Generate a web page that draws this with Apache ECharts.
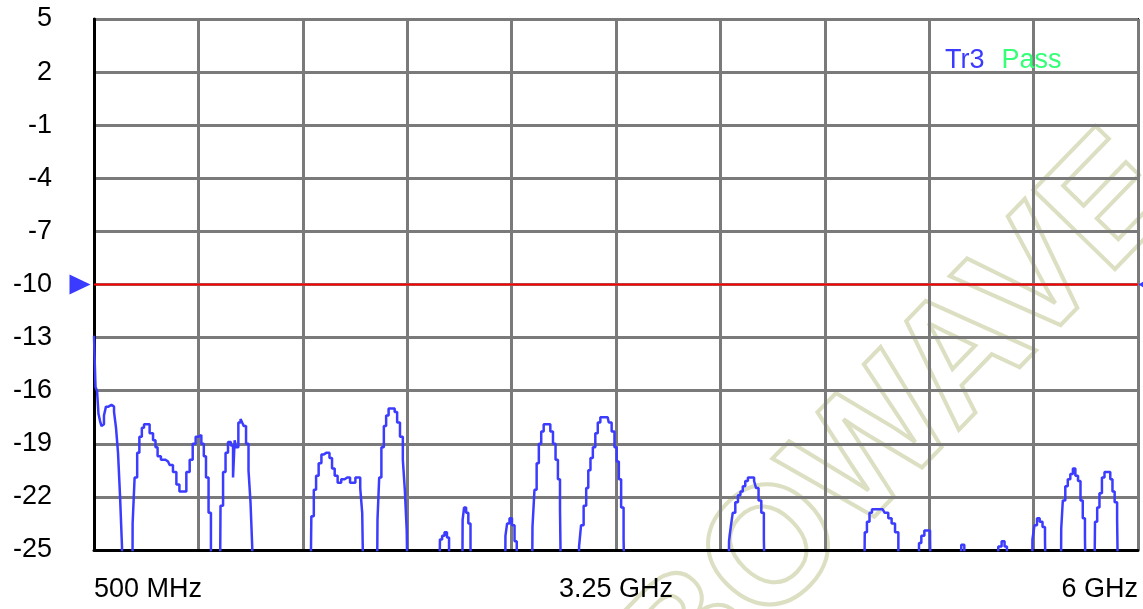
<!DOCTYPE html>
<html>
<head>
<meta charset="utf-8">
<title>Tr3 Pass</title>
<script src="https://cdn.jsdelivr.net/npm/echarts@6/dist/echarts.min.js"></script>
<style>
html, body { margin: 0; padding: 0; background: #fff; }
#chart { width: 1143px; height: 609px; }
</style>
</head>
<body>
<div id="chart"></div>
<script>
// sweep and display scale
const startMHz = 500
const stopMHz = 6000
const divMHz = 550
const bottomDb = -25
const topDb = 5
const divDb = 3
const limitDb = -10
const xLabels = { 500: '500 MHz', 3250: '3.25 GHz', 6000: '6 GHz' }

// trace Tr3, [MHz, dB]; -30 means below the display floor
const band1 = [
  [500, -12.9], [505, -13.9], [511, -15.8], [521, -16.0], [526, -17.3], [537, -17.7], [542, -18.0],
  [547, -17.9], [558, -17.4], [568, -16.9], [584, -16.8], [600, -16.9], [611, -17.2], [621, -18.1],
  [632, -19.5], [642, -21.9], [653, -24.8], [658, -30],
  [702, -30], [705, -23.5], [723, -20.9], [732, -19.5], [746, -18.6], [758, -18.1], [769, -17.9],
  [784, -17.9], [802, -18.4], [820, -18.8], [828, -19.2], [842, -19.7], [863, -19.9], [890, -20.0],
  [907, -20.2], [925, -20.6], [943, -21.3], [957, -21.7], [978, -21.7], [995, -20.6], [1013, -19.9],
  [1027, -19.0], [1044, -18.6], [1057, -18.5], [1074, -19.0], [1083, -19.7], [1097, -20.9],
  [1110, -22.9], [1122, -30],
  [1162, -30], [1171, -22.5], [1189, -20.6], [1197, -19.5], [1215, -18.9], [1227, -19.1],
  [1238, -20.9], [1244, -18.8], [1253, -19.2], [1268, -17.8], [1276, -17.6], [1285, -17.8],
  [1294, -18.0], [1308, -19.0], [1320, -20.5], [1329, -22.3], [1338, -24.8], [1343, -30]
]
const band2 = [
  [1638, -30], [1652, -23.1], [1664, -21.6], [1676, -20.8], [1691, -20.1], [1705, -19.6],
  [1717, -19.5], [1734, -19.5], [1747, -19.8], [1761, -20.4], [1775, -20.8], [1792, -21.2],
  [1813, -21.0], [1828, -20.9], [1840, -20.9], [1858, -21.2], [1870, -21.2], [1884, -20.9],
  [1898, -20.9], [1907, -21.5], [1919, -22.9], [1928, -30],
  [1989, -30], [1998, -23.3], [2007, -20.9], [2021, -19.2], [2033, -18.0], [2045, -17.4],
  [2059, -17.0], [2077, -17.0], [2091, -17.2], [2103, -17.8], [2121, -18.6], [2133, -19.9],
  [2142, -21.6], [2153, -23.9], [2159, -30],
  [2317, -30], [2328, -24.4], [2340, -24.2], [2353, -24.0], [2366, -24.3], [2375, -30],
  [2439, -30], [2445, -23.3], [2454, -22.6], [2467, -22.9], [2477, -23.5], [2490, -24.8], [2497, -30]
]
const band3 = [
  [2665, -30], [2670, -24.2], [2683, -23.5], [2695, -23.2], [2709, -23.6], [2722, -24.5], [2732, -30],
  [2806, -30], [2814, -23.7], [2827, -21.6], [2837, -20.1], [2850, -19.0], [2862, -18.3],
  [2876, -17.9], [2897, -17.9], [2911, -18.3], [2925, -19.0], [2938, -19.9], [2950, -21.0],
  [2960, -22.7], [2967, -30],
  [3051, -30], [3060, -24.8], [3072, -23.6], [3087, -22.5], [3099, -21.5], [3109, -20.5],
  [3122, -19.8], [3134, -19.2], [3148, -18.4], [3160, -17.8], [3175, -17.5], [3206, -17.5],
  [3218, -17.8], [3236, -18.3], [3248, -19.2], [3259, -20.0], [3271, -21.0], [3283, -22.6],
  [3297, -24.4], [3303, -30]
]
const band4 = [
  [3841, -30], [3850, -24.5], [3859, -23.7], [3871, -22.9], [3886, -22.3], [3899, -21.9],
  [3912, -21.7], [3924, -21.4], [3938, -21.1], [3952, -20.9], [3973, -20.9], [3982, -21.1],
  [3994, -21.5], [4008, -22.2], [4023, -22.9], [4035, -24.4], [4044, -30],
  [4556, -30], [4565, -24.0], [4579, -23.4], [4592, -22.9], [4605, -22.7], [4655, -22.7],
  [4676, -22.9], [4693, -23.2], [4711, -23.5], [4729, -24.0], [4746, -30],
  [4842, -30], [4851, -24.6], [4866, -24.2], [4883, -23.9], [4900, -23.9], [4909, -24.4], [4918, -30],
  [5062, -30], [5076, -24.7], [5094, -30],
  [5255, -30], [5273, -24.8], [5290, -24.5], [5304, -24.8], [5315, -30],
  [5440, -30], [5448, -24.4], [5461, -23.6], [5475, -23.2], [5489, -23.4], [5505, -23.7],
  [5515, -24.4], [5522, -30],
  [5593, -30], [5598, -23.8], [5610, -22.2], [5624, -21.4], [5636, -21.0], [5651, -20.7],
  [5663, -20.4], [5677, -20.8], [5691, -21.1], [5703, -22.2], [5715, -23.2], [5726, -24.3], [5733, -30],
  [5768, -30], [5779, -23.4], [5791, -22.6], [5803, -21.8], [5817, -20.9], [5830, -20.6],
  [5847, -20.6], [5861, -21.0], [5870, -21.7], [5884, -22.3], [5896, -23.3], [5901, -30],
  [6000, -30]
]

const FONT = "'Liberation Sans', Arial, sans-serif"
// axes run from 0 so the tick grid starts on the first line
const toXY = p => [p[0] - startMHz, p[1] - bottomDb]
const trace = band1.concat(band2, band3, band4).map(toXY)
const limit = [[startMHz, limitDb], [stopMHz, limitDb]].map(toXY)

const gridLine = { show: true, lineStyle: { color: '#7a7a7a', width: 3 } }

const chart = echarts.init(document.getElementById('chart'))
chart.setOption({
  backgroundColor: '#fff',
  animation: false,
  title: {
    text: '{a|Tr3}{b|Pass}',
    left: 945,
    top: 47,
    padding: 0,
    textStyle: {
      fontWeight: 'normal',
      rich: {
        a: { color: '#3b3bff', fontSize: 27, fontWeight: 'normal', fontFamily: FONT },
        b: { color: '#33ff77', fontSize: 27, fontWeight: 'normal', fontFamily: FONT, padding: [0, 0, 0, 17] }
      }
    }
  },
  graphic: [{
    type: 'text',
    x: 900,
    y: 425,
    rotation: 0.8,
    z: -10,
    silent: true,
    style: {
      text: 'BOWAVE',
      fontSize: 165,
      fontWeight: 'bold',
      fontFamily: FONT,
      fill: 'none',
      stroke: '#dcdfc2',
      lineWidth: 4,
      align: 'center',
      verticalAlign: 'middle',
      textAlign: 'center',
      textVerticalAlign: 'middle'
    }
  }],
  grid: { left: 94, right: 5, top: 19, bottom: 59, show: true, borderColor: '#000', borderWidth: 2 },
  xAxis: {
    type: 'value',
    min: 0,
    max: stopMHz - startMHz,
    interval: divMHz,
    axisLine: { show: true, onZero: false, lineStyle: { color: '#000', width: 3 } },
    axisTick: { show: false },
    splitLine: gridLine,
    axisLabel: {
      formatter: v => xLabels[v + startMHz] || '',
      color: '#000',
      fontSize: 27,
      fontFamily: FONT,
      margin: 26,
      showMinLabel: true,
      showMaxLabel: true,
      alignMinLabel: 'left',
      alignMaxLabel: 'right'
    }
  },
  yAxis: {
    type: 'value',
    min: 0,
    max: topDb - bottomDb,
    interval: divDb,
    axisLine: { show: true, lineStyle: { color: '#000', width: 3 } },
    axisTick: { show: false },
    splitLine: gridLine,
    axisLabel: {
      formatter: v => String(v + bottomDb),
      color: '#000',
      fontSize: 27,
      fontFamily: FONT,
      margin: 42
    }
  },
  series: [
    {
      name: 'Tr3',
      type: 'line',
      data: trace,
      step: 'middle',
      showSymbol: false,
      clip: true,
      lineStyle: { color: '#3c3cff', width: 2.5 },
      z: 3
    },
    {
      name: 'limit',
      type: 'line',
      data: limit,
      showSymbol: false,
      lineStyle: { color: '#ff0000', width: 2 },
      z: 4,
      markPoint: {
        silent: true,
        label: { show: false },
        data: [
          { coord: limit[0], symbol: 'triangle', symbolRotate: -90, symbolSize: [20, 21], symbolOffset: [-14, 0], itemStyle: { color: '#3b3bff' } },
          { coord: limit[1], symbol: 'triangle', symbolRotate: 90, symbolSize: [6, 5], symbolOffset: [3, 0], itemStyle: { color: '#3b3bff' } }
        ]
      }
    }
  ]
})
</script>
</body>
</html>
